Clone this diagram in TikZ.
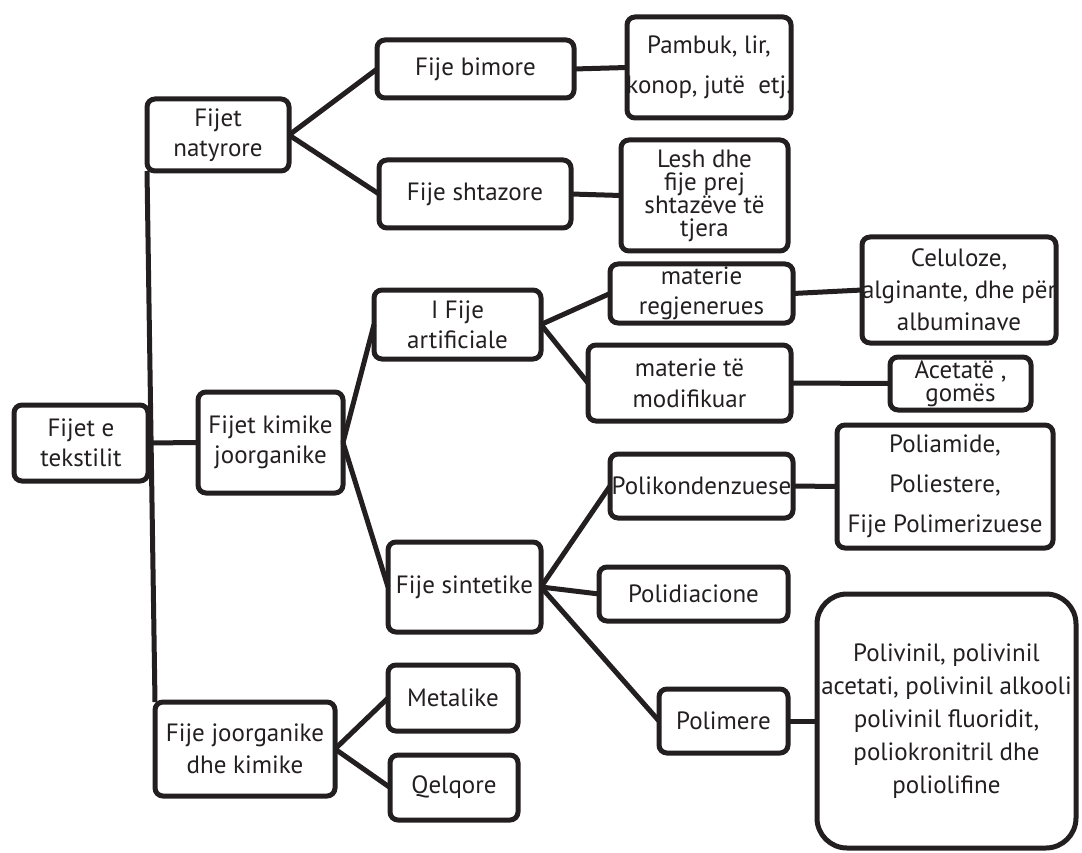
\documentclass[tikz,border=0pt]{standalone}
\usepackage{fontspec}
\setmainfont{PT Sans}
\definecolor{ink}{HTML}{231F20}
% #1 box options, #2 name, #3..#6 corners (x1,y1,x2,y2), #7 text options, #8 text
\newcommand\panel[8][]{%
  \node[box,#1,minimum width={(#5-#3)*1pt},minimum height={(#6-#4)*1pt}] (#2)
    at ({(#3+#5)/2},{(#4+#6)/2}) {};
  \node[txt,#7] at (#2.center) {#8};}
\begin{document}
\begin{tikzpicture}[x=1pt,y=-1pt,
  box/.style={draw=ink, line width=5pt, rounded corners=8pt, inner sep=0pt, outer sep=0pt},
  txt/.style={text=ink, align=center, inner sep=0pt, font=\fontsize{25}{30}\selectfont},
  link/.style={draw=ink, line width=5pt}]
\useasboundingbox (0,0) rectangle (1082,853);

% level 0
\panel{tex}{14}{405}{148}{481}{}{Fijet e\\tekstilit}
% level 1
\panel{nat}{147}{99}{289}{171}{}{Fijet\\natyrore}
\panel{kim}{198}{392}{343}{493}{}{Fijet kimike\\joorganike}
\panel{jor}{155}{702}{335}{796}{font=\fontsize{25}{32}\selectfont}{Fije joorganike\\dhe kimike}
% level 2
\panel{bim}{377}{40}{574}{98}{}{Fije bimore}
\panel{sht}{379}{160}{571}{228}{}{Fije shtazore}
\panel{art}{374}{290}{541}{359}{}{I Fije\\artificiale}
\panel{sin}{388}{542}{541}{632}{}{Fije sintetike}
\panel{met}{388}{665}{518}{731}{}{Metalike}
\panel{qel}{390}{755}{518}{820}{}{Qelqore}
% level 3
\panel{pam}{627}{17}{791}{118}{font=\fontsize{25}{40}\selectfont}{Pambuk, lir,\\konop, jutë~~etj.}
\panel{les}{621}{140}{788}{251}{font=\fontsize{25}{23}\selectfont}{Lesh dhe\\fije prej\\shtazëve të\\tjera}
\panel{reg}{610}{264}{793}{323}{}{materie\\regjenerues}
\panel{mod}{588}{345}{791}{421}{font=\fontsize{25}{31}\selectfont}{materie të\\modifikuar}
\panel{pkd}{610}{454}{793}{518}{}{Polikondenzuese}
\panel{pdi}{599}{567}{788}{621}{}{Polidiacione}
\panel{pme}{659}{689}{788}{753}{}{Polimere}
% level 4
\panel{cel}{862}{237}{1056}{343}{font=\fontsize{25}{32}\selectfont}{Celuloze,\\alginante, dhe për\\albuminave}
\panel{ace}{890}{357}{1031}{410}{font=\fontsize{25}{23}\selectfont}{Acetatë ,\\gomës}
\panel{pam2}{837}{425}{1053}{548}{font=\fontsize{25}{40}\selectfont}{Poliamide,\\Poliestere,\\Fije Polimerizuese}
\panel[rounded corners=30pt]{pvn}{817}{594}{1076}{848}{font=\fontsize{25}{33}\selectfont}{Polivinil, polivinil\\acetati, polivinil alkooli\\polivinil fluoridit,\\poliokronitril dhe\\poliolifine}

% connectors
\draw[link] (nat.south west) -- (jor.north west);
\draw[link] (tex.east) -- (kim.west);
\draw[link] (nat.east) -- (bim.west);
\draw[link] (nat.east) -- (sht.west);
\draw[link] (bim.east) -- (pam.west);
\draw[link] (sht.east) -- (les.west);
\draw[link] (kim.east) -- (art.west);
\draw[link] (kim.east) -- (sin.west);
\draw[link] (art.east) -- (reg.west);
\draw[link] (art.east) -- (mod.west);
\draw[link] (reg.east) -- (cel.west);
\draw[link] (mod.east) -- (ace.west);
\draw[link] (sin.east) -- (pkd.west);
\draw[link] (sin.east) -- (pdi.west);
\draw[link] (sin.east) -- (pme.west);
\draw[link] (pkd.east) -- (pam2.west);
\draw[link] (pme.east) -- (pvn.west);
\draw[link] (jor.east) -- (met.west);
\draw[link] (jor.east) -- (qel.west);
\end{tikzpicture}
\end{document}
